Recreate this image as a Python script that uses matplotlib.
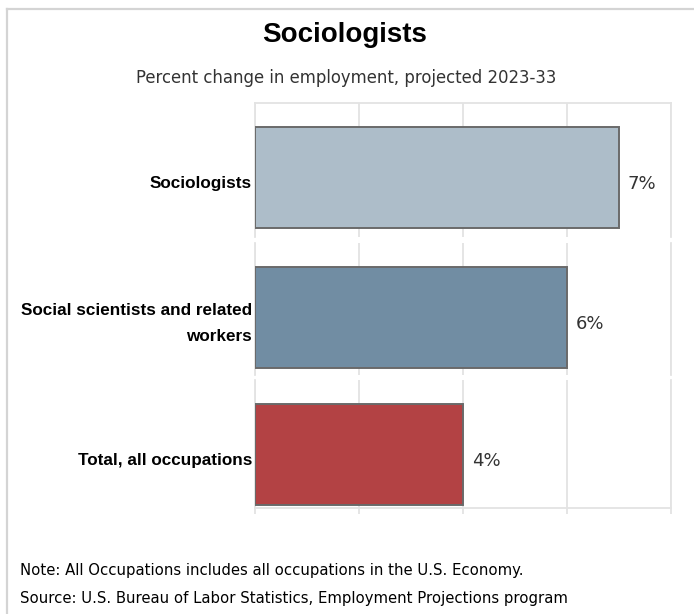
"""
Projected employment change chart - Sociologists vs. related groups.
"""

import matplotlib.pyplot as plt
from matplotlib.lines import Line2D

# Chart data
categories = ['Sociologists', 'Social scientists and related\nworkers', 'Total, all occupations']
values = [7, 6, 4]
value_labels = ['7%', '6%', '4%']
bar_colors = ['#adbdc9', '#718da3', '#b34244']
x_ticks = [0, 2, 4, 6, 8]

title = 'Sociologists'
subtitle = 'Percent change in employment, projected 2023-33'
note = 'Note: All Occupations includes all occupations in the U.S. Economy.'
source = 'Source: U.S. Bureau of Labor Statistics, Employment Projections program'

W, H = 694, 614
fig = plt.figure(figsize=(W / 100, H / 100), dpi=100)

# Tahoma-like text for subtitle, values and notes
thin_font = ['DejaVu Sans Condensed', 'DejaVu Sans']
bold_font = ['Liberation Sans', 'DejaVu Sans']
grid_color = '#e3e3e3'


def px_axes(left, top, right, bottom):
    """Add axes placed in pixel coordinates (origin top-left)"""
    return fig.add_axes([left / W, 1 - bottom / H, (right - left) / W, (bottom - top) / H])


# Outer frame (left and top edges)
fig.add_artist(Line2D([7 / W, 7 / W], [0, 1 - 9 / H], color='#d4d4d4', lw=1.6))
fig.add_artist(Line2D([7 / W, 1], [1 - 9 / H, 1 - 9 / H], color='#d4d4d4', lw=1.6))

# Titles
fig.text(345 / W, 1 - 35 / H, title, ha='center', va='center',
         fontsize=20, fontweight='bold', family=bold_font, color='black')
fig.text(346 / W, 1 - 78 / H, subtitle, ha='center', va='center',
         fontsize=11.9, family=thin_font, color='#333333')

# One panel per bar, stacked with small white gaps
panels = [(103, 237), (243, 375), (380, 508)]
x_left, x_right = 255, 671
px_per_unit = (x_right - x_left) / (x_ticks[-1] - x_ticks[0])

for i, (top, bottom) in enumerate(panels):
    ax = px_axes(x_left, top, x_right, bottom)
    ax.set_xlim(x_ticks[0], x_ticks[-1])

    # Bar sits a little low in its panel
    bar_px = 101
    ax.set_ylim(-(bottom - top - bar_px - 24) / bar_px, 1 + 24 / bar_px)

    ax.barh(0.5, values[i], height=1.0, color=bar_colors[i],
            edgecolor='#6a6a6a', linewidth=1.4, zorder=3)
    ax.text(values[i] + 0.17, 0.44, value_labels[i], ha='left', va='center',
            fontsize=13, family=thin_font, color='#333333')

    # Category label, right aligned just left of the axis
    ax.text(-3 / px_per_unit, 0.44, categories[i], ha='right', va='center',
            fontsize=12.3, fontweight='bold', family=bold_font, color='black',
            linespacing=1.95, multialignment='right', clip_on=False)
    ax.set_yticks([])

    # Vertical grid lines
    ax.set_xticks(x_ticks)
    ax.grid(axis='x', color=grid_color, linewidth=1.3)
    ax.set_axisbelow(True)

    for side in ['left', 'right', 'top', 'bottom']:
        ax.spines[side].set_color(grid_color)
        ax.spines[side].set_linewidth(1.3)
    ax.spines['top'].set_visible(i == 0)
    ax.spines['bottom'].set_visible(i == len(panels) - 1)

    if i == len(panels) - 1:
        ax.tick_params(axis='x', length=4, color=grid_color, width=1.3, labelbottom=False)
    else:
        ax.tick_params(axis='x', length=0, labelbottom=False)

# Footer notes
fig.text(20 / W, 1 - 570 / H, note, ha='left', va='center',
         fontsize=10.75, family=thin_font, color='black')
fig.text(20 / W, 1 - 598 / H, source, ha='left', va='center',
         fontsize=10.75, family=thin_font, color='black')

plt.savefig('out.png', dpi=100)
